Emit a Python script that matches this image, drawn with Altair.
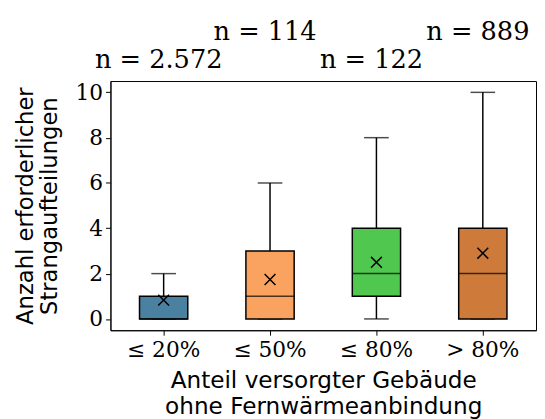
import altair as alt
import pandas as pd

categories = ["≤ 20%", "≤ 50%", "≤ 80%", "> 80%"]
whisker_low = [0, 0, 0, 0]
q1 = [0, 0, 1, 0]
median = [0, 1, 2, 2]
q3 = [1, 3, 4, 4]
whisker_high = [2, 6, 8, 10]
mean = [0.83, 1.74, 2.5, 2.9]
n_labels = ["n = 2.572", "n = 114", "n = 122", "n = 889"]
colors = ["#4a80a0", "#faa360", "#50c850", "#cd7a3a"]

df = pd.DataFrame({
    "cat": categories,
    "lo": whisker_low,
    "q1": q1,
    "med": median,
    "q3": q3,
    "hi": whisker_high,
    "mean": mean,
    "n": n_labels,
    "tier": [0, 1, 0, 1],
})

x = alt.X("cat:N", sort=categories,
          scale=alt.Scale(paddingInner=0, paddingOuter=0),
          axis=alt.Axis(title=["Anteil versorgter Gebäude", "ohne Fernwärmeanbindung"],
                        labelAngle=0, labelFont="DejaVu Serif", labelFontSize=22,
                        labelColor="black", labelPadding=5, tickSize=5, tickColor="black",
                        domainColor="black", titleFont="DejaVu Sans", titleFontSize=23.5,
                        titleFontWeight="normal", titleColor="black", titleLineHeight=27,
                        titlePadding=8))
yscale = alt.Scale(domain=[-0.5, 10.5], nice=False, zero=False)
yaxis = alt.Axis(title=["Anzahl erforderlicher", "Strangaufteilungen"],
                 values=[0, 2, 4, 6, 8, 10], grid=False,
                 labelFont="DejaVu Serif", labelFontSize=22, labelColor="black",
                 labelPadding=3, tickSize=5, tickColor="black", domainColor="black",
                 titleFont="DejaVu Sans", titleFontSize=23, titleFontWeight="normal",
                 titleColor="black", titleLineHeight=24, titlePadding=14)

base = alt.Chart(df)

whiskers_up = base.mark_rule(color="black", strokeWidth=1.5).encode(
    x=x, y=alt.Y("q3:Q", scale=yscale, axis=yaxis), y2="hi:Q")
whiskers_dn = base.mark_rule(color="black", strokeWidth=1.5).encode(
    x=x, y=alt.Y("lo:Q", scale=yscale), y2="q1:Q")
caps_hi = base.mark_tick(color="black", size=25, thickness=1.5).encode(
    x=x, y=alt.Y("hi:Q", scale=yscale))
caps_lo = base.mark_tick(color="black", size=25, thickness=1.5).encode(
    x=x, y=alt.Y("lo:Q", scale=yscale))
boxes = base.mark_bar(size=49, stroke="black", strokeWidth=1.5).encode(
    x=x, y=alt.Y("q1:Q", scale=yscale), y2="q3:Q",
    fill=alt.Fill("cat:N", sort=categories,
                  scale=alt.Scale(domain=categories, range=colors), legend=None))
medians = base.mark_tick(color="black", size=49, thickness=1.5).encode(
    x=x, y=alt.Y("med:Q", scale=yscale))
means = base.mark_point(shape="M-1,-1L1,1M1,-1L-1,1", size=121, filled=False,
                        stroke="black", strokeWidth=1.5, opacity=1).encode(
    x=x, y=alt.Y("mean:Q", scale=yscale))
txt_low = base.transform_filter("datum.tier == 0").mark_text(
    font="DejaVu Serif", fontSize=26, baseline="alphabetic", dx=-5, color="black").encode(
    x=x, y=alt.value(-13), text="n:N")
txt_high = base.transform_filter("datum.tier == 1").mark_text(
    font="DejaVu Serif", fontSize=26, baseline="alphabetic", dx=-5, color="black").encode(
    x=x, y=alt.value(-41.5), text="n:N")

chart = alt.layer(whiskers_up, whiskers_dn, caps_hi, caps_lo, boxes, medians, means,
                  txt_low, txt_high).properties(
    width=432, height=253,
    autosize=alt.AutoSizeParams(type="none"),
    padding={"left": 104, "top": 71, "right": 1, "bottom": 90},
).configure_view(stroke="black", strokeWidth=1).configure_axis(domainWidth=1, tickWidth=1)

chart.save("out.html", embed_options={"renderer": "svg", "actions": False})
